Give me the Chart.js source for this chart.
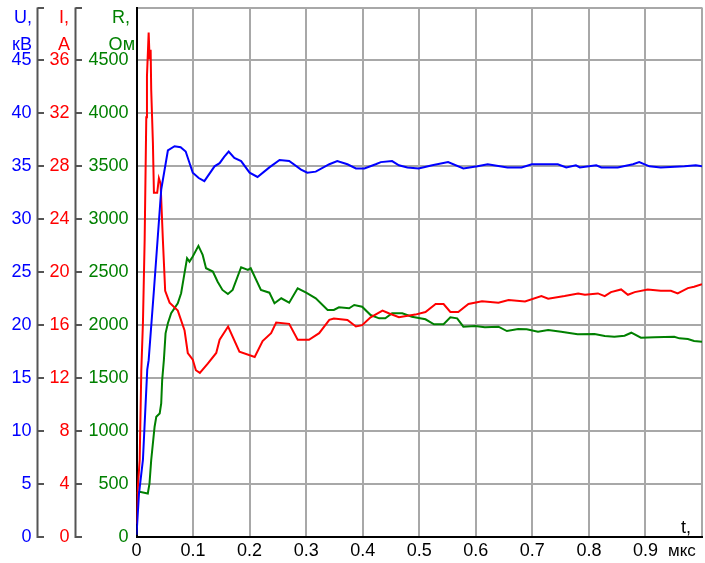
<!DOCTYPE html>
<html>
<head>
<meta charset="utf-8">
<script src="https://cdn.jsdelivr.net/npm/chart.js@4.4.1/dist/chart.umd.min.js"></script>
<style>
  html, body { margin: 0; padding: 0; background: #fff; }
  #wrap { width: 705px; height: 563px; }
</style>
</head>
<body>
<div id="wrap"><canvas id="chart" width="705" height="563"></canvas></div>
<script>
// Напряжение, ток и сопротивление во времени (t в мкс)
var uTime   = [0, 0.0044, 0.0114, 0.019, 0.0215, 0.0308, 0.0437, 0.0555, 0.0673, 0.078, 0.087, 0.0995, 0.11, 0.12, 0.138, 0.147, 0.155, 0.163, 0.173, 0.185, 0.2, 0.214, 0.235, 0.253, 0.27, 0.291, 0.302, 0.317, 0.341, 0.355, 0.373, 0.388, 0.403, 0.423, 0.432, 0.452, 0.464, 0.479, 0.499, 0.523, 0.551, 0.578, 0.603, 0.621, 0.656, 0.681, 0.699, 0.728, 0.745, 0.76, 0.777, 0.784, 0.813, 0.822, 0.851, 0.878, 0.889, 0.907, 0.927, 0.969, 0.989, 1.0];
var uValues = [0.2, 4.1, 7.3, 15.8, 16.7, 23.3, 32.8, 36.5, 36.9, 36.8, 36.4, 34.4, 33.9, 33.6, 35.0, 35.3, 35.9, 36.4, 35.8, 35.5, 34.4, 34.0, 34.9, 35.6, 35.5, 34.7, 34.4, 34.5, 35.2, 35.5, 35.2, 34.8, 34.8, 35.2, 35.4, 35.5, 35.1, 34.9, 34.8, 35.1, 35.4, 34.8, 35.0, 35.2, 34.9, 34.9, 35.2, 35.2, 35.2, 34.9, 35.1, 34.9, 35.1, 34.9, 34.9, 35.2, 35.4, 35.0, 34.9, 35.0, 35.1, 35.0];

var iTime   = [0, 0.002, 0.0056, 0.0085, 0.0114, 0.0144, 0.0173, 0.0185, 0.0215, 0.0232, 0.025, 0.026, 0.029, 0.0308, 0.0366, 0.0396, 0.0426, 0.0467, 0.0507, 0.0585, 0.073, 0.085, 0.0907, 0.0995, 0.105, 0.112, 0.126, 0.141, 0.147, 0.162, 0.182, 0.209, 0.223, 0.238, 0.247, 0.27, 0.285, 0.305, 0.323, 0.341, 0.349, 0.373, 0.388, 0.399, 0.414, 0.435, 0.446, 0.464, 0.493, 0.511, 0.529, 0.543, 0.555, 0.569, 0.587, 0.611, 0.64, 0.658, 0.687, 0.716, 0.728, 0.757, 0.781, 0.793, 0.816, 0.828, 0.839, 0.857, 0.869, 0.881, 0.904, 0.927, 0.945, 0.957, 0.975, 0.986, 1.0];
var iValues = [1.0, 3.5, 5.8, 12.6, 16.2, 22.4, 31.7, 34.8, 38.1, 36.1, 36.8, 33.8, 29.8, 26.0, 26.0, 27.1, 26.7, 22.4, 18.6, 17.7, 17.1, 15.6, 13.9, 13.4, 12.6, 12.4, 13.1, 13.9, 14.9, 15.9, 14.0, 13.6, 14.8, 15.4, 16.2, 16.1, 14.9, 14.9, 15.4, 16.4, 16.5, 16.4, 15.9, 16.0, 16.6, 17.1, 16.9, 16.6, 16.8, 17.0, 17.6, 17.6, 17.0, 17.0, 17.6, 17.8, 17.7, 17.9, 17.8, 18.2, 18.0, 18.2, 18.4, 18.3, 18.4, 18.2, 18.5, 18.7, 18.3, 18.5, 18.7, 18.6, 18.6, 18.4, 18.8, 18.9, 19.1];

var rTime   = [0, 0.0056, 0.02, 0.023, 0.026, 0.029, 0.032, 0.035, 0.041, 0.0437, 0.0454, 0.0484, 0.0514, 0.0555, 0.0613, 0.073, 0.0789, 0.0849, 0.0894, 0.0937, 0.0995, 0.1095, 0.117, 0.123, 0.135, 0.1435, 0.152, 0.1616, 0.17, 0.185, 0.197, 0.202, 0.22, 0.235, 0.244, 0.256, 0.27, 0.285, 0.3, 0.317, 0.338, 0.349, 0.358, 0.376, 0.385, 0.399, 0.414, 0.429, 0.44, 0.452, 0.47, 0.487, 0.511, 0.526, 0.543, 0.555, 0.567, 0.578, 0.599, 0.616, 0.64, 0.655, 0.675, 0.69, 0.71, 0.728, 0.751, 0.78, 0.81, 0.828, 0.845, 0.863, 0.875, 0.892, 0.916, 0.951, 0.96, 0.975, 0.986, 1.0];
var rValues = [411, 426, 411, 506, 726, 884, 1041, 1135, 1167, 1262, 1482, 1671, 1923, 2018, 2113, 2207, 2302, 2491, 2632, 2600, 2648, 2749, 2664, 2538, 2506, 2411, 2333, 2295, 2333, 2547, 2522, 2538, 2333, 2307, 2207, 2254, 2213, 2349, 2307, 2254, 2144, 2144, 2169, 2160, 2191, 2175, 2096, 2065, 2065, 2113, 2113, 2080, 2056, 2009, 2009, 2075, 2065, 1986, 1992, 1980, 1986, 1945, 1964, 1961, 1939, 1955, 1939, 1914, 1917, 1898, 1891, 1901, 1929, 1882, 1886, 1891, 1876, 1870, 1851, 1844];

function toPoints(xs, ys) {
  return xs.map(function (x, k) { return { x: x, y: ys[k] }; });
}

var FONT = '"Liberation Sans", Arial, sans-serif';
var tickFont = { family: FONT, size: 18 };

// ширина шкалы задаётся вручную, отступы сверху/снизу убираем
function fixWidth(w) {
  return function (s) { s.width = w; s.paddingTop = 0; s.paddingBottom = 0; };
}

// подписи осей и вертикальные линии шкал
var axisDecor = {
  id: 'axisDecor',
  afterDraw: function (chart) {
    var c = chart.ctx, a = chart.chartArea;
    var sU = chart.scales.yU, sI = chart.scales.yI;
    c.save();
    c.strokeStyle = '#555';
    c.lineWidth = 2;
    [sU, sI].forEach(function (s) {
      var x = s.right - 6;
      c.beginPath();
      c.moveTo(x, a.top);
      c.lineTo(x, a.bottom + 1);
      c.stroke();
    });
    c.font = '18px ' + FONT;
    c.textAlign = 'right';
    c.textBaseline = 'alphabetic';
    c.fillStyle = '#0000ff';
    c.fillText('U,', 32, 23);
    c.fillText('кВ', 32, 50);
    c.fillStyle = '#ff0000';
    c.fillText('I,', 69, 23);
    c.fillText('A', 70, 50);
    c.fillStyle = '#008000';
    c.fillText('R,', 130, 23);
    c.fillText('Ом', 135, 50);
    c.fillStyle = '#000';
    c.fillText('t,', 691, 533);
    c.font = '17px ' + FONT;
    c.textAlign = 'left';
    c.fillText('мкс', 668, 556);
    c.restore();
  }
};

var ctx = document.getElementById('chart').getContext('2d');
var myChart = new Chart(ctx, {
  type: 'line',
  data: {
    datasets: [
      { label: 'U', data: toPoints(uTime, uValues), yAxisID: 'yU', borderColor: '#0000ff' },
      { label: 'I', data: toPoints(iTime, iValues), yAxisID: 'yI', borderColor: '#ff0000' },
      { label: 'R', data: toPoints(rTime, rValues), yAxisID: 'yR', borderColor: '#008000' }
    ]
  },
  options: {
    responsive: false,
    animation: false,
    events: [],
    layout: { padding: { top: 7.5, right: 1, left: 0, bottom: 0 } },
    elements: {
      line: { borderWidth: 2, tension: 0, fill: false },
      point: { radius: 0 }
    },
    plugins: { legend: { display: false }, tooltip: { enabled: false } },
    scales: {
      x: {
        type: 'linear', min: 0, max: 1,
        afterFit: function (s) { s.height = 26; },
        grid: { color: '#a8a8a8', lineWidth: 2, drawTicks: false },
        border: { display: true, color: '#000', width: 2 },
        ticks: {
          stepSize: 0.1, padding: 3, maxRotation: 0, autoSkip: false,
          color: '#000', font: { family: FONT, size: 18 },
          callback: function (v) { return v > 0.95 ? '' : (v === 0 ? '0' : v.toFixed(1)); }
        }
      },
      // порядок: ближайшая к графику шкала идёт первой
      yR: {
        position: 'left', min: 0, max: 5000,
        afterFit: fixWidth(55),
        grid: { color: '#a8a8a8', lineWidth: 2, drawTicks: false },
        border: { display: true, color: '#000', width: 2 },
        ticks: {
          stepSize: 500, padding: 8, color: '#008000', font: tickFont,
          callback: function (v) { return v >= 5000 ? '' : v; }
        }
      },
      yI: {
        position: 'left', min: 0, max: 40,
        afterFit: fixWidth(38),
        grid: { drawOnChartArea: false, drawTicks: true, tickLength: 6, color: '#555', lineWidth: 2 },
        border: { display: false },
        ticks: {
          stepSize: 4, padding: 6, color: '#ff0000', font: tickFont,
          callback: function (v) { return v >= 40 ? '' : v; }
        }
      },
      yU: {
        position: 'left', min: 0, max: 50,
        afterFit: fixWidth(43.5),
        grid: { drawOnChartArea: false, drawTicks: true, tickLength: 6, color: '#555', lineWidth: 2 },
        border: { display: false },
        ticks: {
          stepSize: 5, padding: 6, color: '#0000ff', font: tickFont,
          callback: function (v) { return v >= 50 ? '' : v; }
        }
      }
    }
  },
  plugins: [axisDecor]
});
</script>
</body>
</html>
